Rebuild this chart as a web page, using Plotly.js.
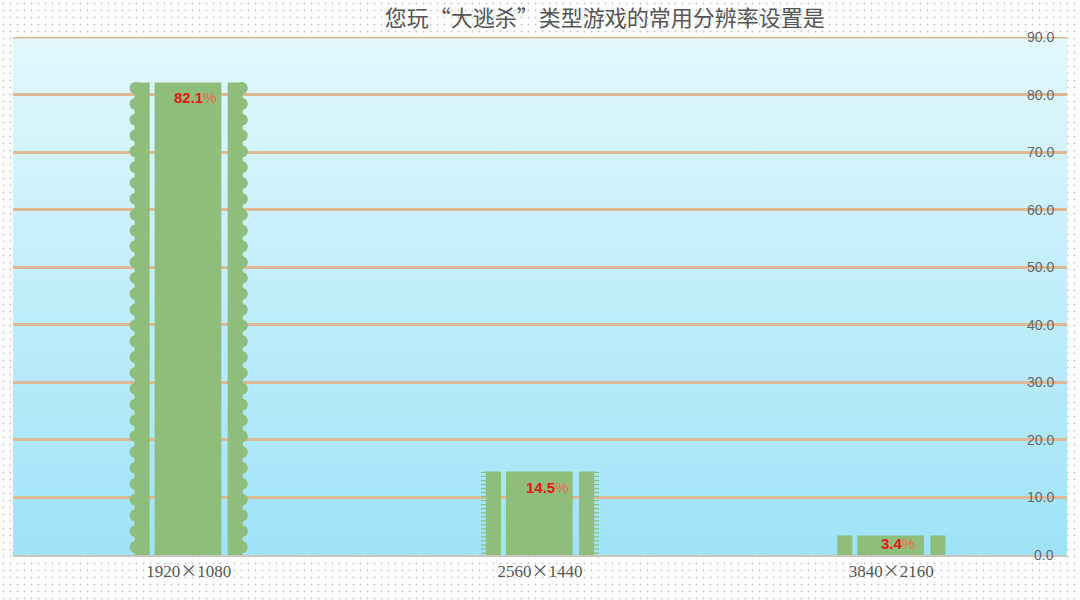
<!DOCTYPE html>
<html>
<head>
<meta charset="utf-8">
<script src="https://cdn.plot.ly/plotly-3.0.1.min.js"></script>
<style>
  html, body { margin: 0; padding: 0; }
  body {
    width: 1080px; height: 600px;
    background-color: #ffffff;
    background-image: radial-gradient(#c9c9c9 0.9px, transparent 1.1px);
    background-size: 7px 7px;
  }
  #chart { width: 1080px; height: 600px; }
</style>
</head>
<body>
<div id="chart"></div>
<script>
// data
const categories = ['1920×1080', '2560×1440', '3840×2160'];
const shares = [82.1, 14.5, 3.4];
const yTicks = [0, 10, 20, 30, 40, 50, 60, 70, 80, 90];

const green = '#8fbd7c';
const gridColor = '#dfb896';
const idx = categories.map((c, i) => i);

// wide cjk multiplication sign, like the original
const tickText = categories.map(c =>
  c.replace('×', '<span style="font-family:Noto Sans CJK SC">×</span>'));

// plot area gradient as an inline svg
const bgSvg = '<svg xmlns="http://www.w3.org/2000/svg" width="10" height="100" preserveAspectRatio="none">' +
  '<defs><linearGradient id="g" x1="0" y1="0" x2="0" y2="1">' +
  '<stop offset="0" stop-color="#e2f8fd"/><stop offset="1" stop-color="#9fe3f8"/>' +
  '</linearGradient></defs><rect width="10" height="100" fill="url(#g)"/></svg>';
const bgSrc = 'data:image/svg+xml;base64,' + btoa(bgSvg);

function strip(offset, width) {
  return {
    type: 'bar', x: idx, y: shares, offset: offset, width: width,
    marker: { color: green, line: { width: 0 } },
    hoverinfo: 'skip', showlegend: false
  };
}

const traces = [
  strip(-0.154, 0.043),
  strip(-0.097, 0.19),
  strip(0.111, 0.043)
];

// scalloped edges on the tall bar, comb edges on the middle bar
function edgeMarks(i, step, dx, symbol, size) {
  const xs = [];
  const ys = [];
  for (let y = step / 2; y < shares[i]; y += step) {
    xs.push(i - dx); ys.push(y);
    xs.push(i + dx); ys.push(y);
  }
  return {
    type: 'scatter', mode: 'markers', x: xs, y: ys,
    marker: { symbol: symbol, size: size, color: green, line: { color: green, width: 1.2 } },
    hoverinfo: 'skip', showlegend: false
  };
}
traces.push(edgeMarks(0, 2.75, 0.151, 'circle', 11));
traces.push(edgeMarks(1, 0.7, 0.154, 'line-ew', 7));

const labelNotes = shares.map((v, i) => ({
  x: i + 0.02, y: v, xref: 'x', yref: 'y',
  yanchor: 'top', yshift: v < 5 ? 2 : -5, showarrow: false,
  text: '<b>' + v.toFixed(1) + '</b><span style="color:#ee6a4a">%</span>',
  font: { family: 'Liberation Sans, Arial, sans-serif', size: 15, color: '#e8170f' }
}));

// right-hand tick labels drawn over the grid lines
const tickNotes = yTicks.map(t => ({
  x: 0.9895, xref: 'paper', y: t, yref: 'y',
  xanchor: 'right', yanchor: 'middle', showarrow: false,
  text: t.toFixed(1),
  font: { family: 'Liberation Sans, Arial, sans-serif', size: 14, color: '#666666' }
}));

const layout = {
  width: 1080, height: 600,
  margin: { l: 13, r: 13, t: 37, b: 45 },
  paper_bgcolor: 'rgba(0,0,0,0)',
  plot_bgcolor: 'rgba(0,0,0,0)',
  barmode: 'overlay',
  title: {
    text: '您玩“大逃杀”类型游戏的常用分辨率设置是',
    x: 0.56, xanchor: 'center', y: 0.97, yanchor: 'middle',
    font: { family: 'Noto Sans CJK SC, sans-serif', size: 22, color: '#555555' }
  },
  xaxis: {
    type: 'linear', range: [-0.5, 2.5],
    tickvals: idx, ticktext: tickText,
    tickfont: { family: 'Liberation Serif, DejaVu Serif, serif', size: 17, color: '#555555' },
    showgrid: false, zeroline: false,
    showline: true, linecolor: '#c9c6bd', linewidth: 2,
    ticks: ''
  },
  yaxis: {
    side: 'right', range: [0, 90],
    tickvals: yTicks, showticklabels: false,
    showgrid: true, gridcolor: gridColor, gridwidth: 3,
    zeroline: false, showline: false, ticks: ''
  },
  images: [{
    source: bgSrc, xref: 'paper', yref: 'paper', x: 0, y: 1,
    sizex: 1, sizey: 1, sizing: 'stretch', layer: 'below',
    xanchor: 'left', yanchor: 'top'
  }],
  // top grid line sits on the plot edge, which plotly skips
  shapes: [{
    type: 'line', xref: 'paper', x0: 0, x1: 1,
    yref: 'y', y0: yTicks[yTicks.length - 1], y1: yTicks[yTicks.length - 1],
    line: { color: gridColor, width: 3 }, layer: 'below'
  }],
  annotations: labelNotes.concat(tickNotes),
  showlegend: false
};

Plotly.newPlot('chart', traces, layout, { displayModeBar: false, staticPlot: true });
</script>
</body>
</html>
